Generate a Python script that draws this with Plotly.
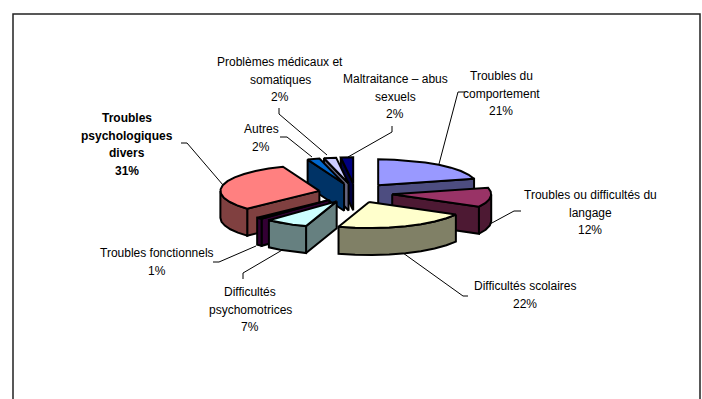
import numpy as np
import plotly.graph_objects as go

categories = ["Troubles du comportement", "Troubles ou difficultés du langage", "Difficultés scolaires",
              "Difficultés psychomotrices", "Troubles fonctionnels", "Troubles psychologiques divers",
              "Autres", "Problèmes médicaux et somatiques", "Maltraitance – abus sexuels"]
values = [21, 12, 22, 7, 1, 31, 2, 2, 2]
label_lines = [["Troubles du", "comportement"], ["Troubles ou difficultés du", "langage"],
               ["Difficultés scolaires"], ["Difficultés", "psychomotrices"], ["Troubles fonctionnels"],
               ["Troubles", "psychologiques", "divers"], ["Autres"], ["Problèmes médicaux et", "somatiques"],
               ["Maltraitance – abus", "sexuels"]]
top_colors = ["#9999FF", "#993366", "#FFFFCC", "#CCFFFF", "#660066", "#FF8080", "#0066CC", "#CCCCFF", "#000080"]
wall_colors = ["#4D4D80", "#4D1933", "#808066", "#668080", "#330033", "#804040", "#003366", "#666680", "#000040"]

# layout of the fake 3D pie, in page pixels
CX, CY = 355.5, 193
RX, RY = 99, 26
TILT = RY / RX
DEPTH = 27
EXPLODE = 37
ARC_STEP = 10

# top line of each label (x centre, y), then one line every 17.7 px
label_pos = [(501, 76), (590, 195), (525, 286), (250, 292), (157, 253), (127, 118), (261, 129), (280, 62), (395, 79)]
leaders = [[(465, 92), (458, 92), (439, 164)], [(521, 211), (514, 211), (490, 224)],
           [(468, 296), (463, 296), (403, 253)], [(243, 279), (243, 273), (284, 249)],
           [(213, 262), (219, 262), (256, 246)], [(181, 143), (187, 143), (223, 185)],
           [(280, 137), (287, 137), (312, 157)], [(279, 108), (279, 114), (327, 155)],
           [(392, 126), (392, 132), (348, 157)]]
FRAME = dict(x0=13, y0=14, x1=700, y1=420)


def arc(ax, ay, a0, a1):
    n = max(2, int(abs(a1 - a0) / ARC_STEP) + 2)
    t = np.radians(np.linspace(a0, a1, n))
    return ax + RX * np.sin(t), ay - RY * np.cos(t)


def poly(xs, ys, color):
    return go.Scatter(x=list(xs), y=list(ys), mode="lines", fill="toself", fillcolor=color,
                      line=dict(color="black", width=2), hoverinfo="skip", showlegend=False)


def face(ax, ay, ang):
    px_, py_ = arc(ax, ay, ang, ang)
    xs = [ax, px_[0], px_[0], ax, ax]
    ys = [ay, py_[0], py_[0] + DEPTH, ay + DEPTH, ay]
    return xs, ys


def slice_traces(a0, a1, top, wall):
    mid = np.radians((a0 + a1) / 2)
    ax = CX + EXPLODE * np.sin(mid)
    ay = CY - EXPLODE * TILT * np.cos(mid)
    out = []
    # radial faces that look at the viewer
    if np.sin(np.radians(a0)) < 0:
        out.append(poly(*face(ax, ay, a0), wall))
    if np.sin(np.radians(a1)) > 0:
        out.append(poly(*face(ax, ay, a1), wall))
    # rim, front half only
    f0, f1 = max(a0, 90), min(a1, 270)
    if f1 > f0:
        x, y = arc(ax, ay, f0, f1)
        out.append(poly(np.r_[x, x[::-1], x[0]], np.r_[y, y[::-1] + DEPTH, y[0]], wall))
    x, y = arc(ax, ay, a0, a1)
    out.append(poly(np.r_[ax, x, ax], np.r_[ay, y, ay], top))
    return ay, out


edges = np.cumsum([0] + values) / sum(values) * 360
slices = [slice_traces(edges[i], edges[i + 1], top_colors[i], wall_colors[i]) for i in range(len(values))]

fig = go.Figure()
for leader in leaders:
    fig.add_trace(go.Scatter(x=[p[0] for p in leader], y=[p[1] for p in leader], mode="lines",
                             line=dict(color="black", width=1), hoverinfo="skip", showlegend=False))
# back slices first
for _, traces in sorted(slices, key=lambda s: s[0]):
    fig.add_traces(traces)

for i, lines in enumerate(label_lines):
    x, y = label_pos[i]
    bold = categories[i].startswith("Troubles psycho")
    for j, line in enumerate(lines + [f"{values[i]}%"]):
        fig.add_annotation(x=x, y=y + j * 17.7, text=f"<b>{line}</b>" if bold else line, showarrow=False,
                           font=dict(family="Liberation Sans", size=12, color="black"))

fig.add_shape(type="rect", line=dict(color="#222222", width=1.5), **FRAME)
fig.update_layout(width=702, height=399, margin=dict(l=0, r=0, t=0, b=0), paper_bgcolor="white",
                  plot_bgcolor="white",
                  xaxis=dict(range=[0, 702], visible=False, fixedrange=True),
                  yaxis=dict(range=[399, 0], visible=False, fixedrange=True))
fig.write_html("out.html", config=dict(displayModeBar=False),
               post_script="document.body.style.margin='0';")
